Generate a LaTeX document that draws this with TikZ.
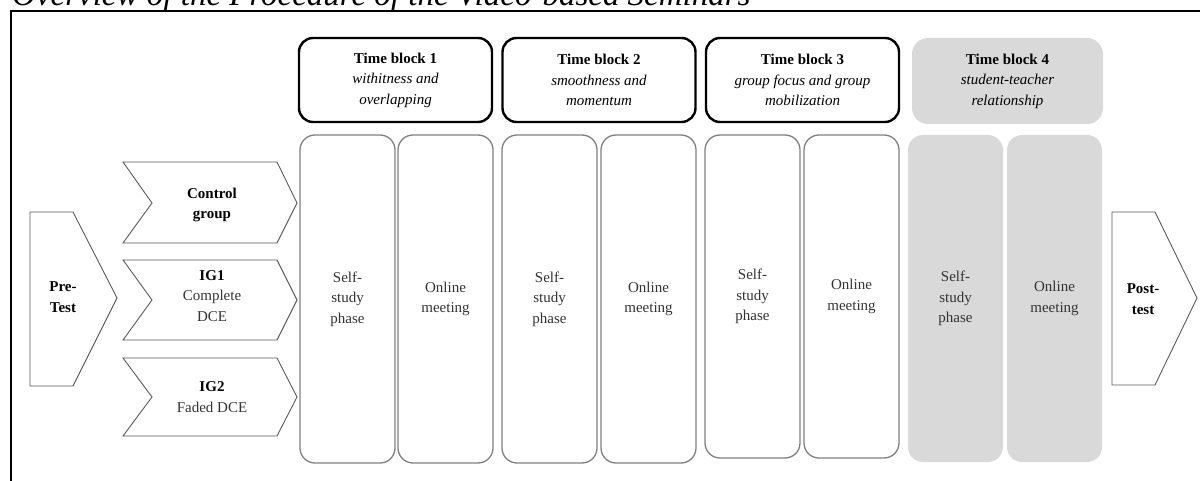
\documentclass[tikz,border=0pt]{standalone}
\usepackage{fontspec}
\setmainfont{Liberation Serif}
\begin{document}
\begin{tikzpicture}[x=1pt,y=-1pt,
  txt/.style={font=\fontsize{15}{20.5}\selectfont},
  hdr/.style={txt, draw=black, line width=2.4pt, rounded corners=14pt, minimum width=193pt, minimum height=84pt, align=center, inner sep=0pt},
  hdrgray/.style={txt, fill=black!15, rounded corners=16pt, minimum width=191pt, minimum height=86pt, align=center, inner sep=0pt},
  col/.style={txt, draw=black!50, line width=1.3pt, rounded corners=15pt, minimum width=95pt, align=center, inner sep=0pt, text=black!80},
  colgray/.style={txt, fill=black!15, rounded corners=15pt, minimum width=95pt, align=center, inner sep=0pt, text=black!80},
  chev/.style={draw=black!65, line width=0.9pt, line join=miter},
  lbl/.style={txt, align=center, inner sep=0pt}
]
\clip (0,0) rectangle (1200,481);
\useasboundingbox (0,0) rectangle (1200,481);

% title and frame
\node[anchor=base west, inner sep=0pt, font=\fontsize{33}{36}\selectfont\itshape] (title) at (12,6) {Overview of the Procedure of the Video-based Seminars};
\coordinate (fbl) at (11,481);
\coordinate (ftl) at (11,11);
\coordinate (ftr) at (1200,11);
\draw[line width=1.3pt] (fbl) -- (ftl) -- (ftr);

% headers
\node[hdr] (tb1) at (395.5,80) {\textbf{Time block 1}\\\textit{withitness and}\\\textit{overlapping}};
\node[hdr] (tb2) at (599,80) {\textbf{Time block 2}\\\textit{smoothness and}\\\textit{momentum}};
\node[hdr] (tb3) at (802.5,80) {\textbf{Time block 3}\\\textit{group focus and group}\\\textit{mobilization}};
\node[hdrgray] (tb4) at (1007.5,81) {\textbf{Time block 4}\\\textit{student-teacher}\\\textit{relationship}};

% columns
\node[col, minimum height=328pt] (s1) at (347.5,299) {Self-\\study\\phase};
\node[col, minimum height=328pt] (o1) at (445.5,299) {Online\\meeting};
\node[col, minimum height=328pt] (s2) at (549.5,299) {Self-\\study\\phase};
\node[col, minimum height=328pt] (o2) at (648.5,299) {Online\\meeting};
\node[col, minimum height=323pt] (s3) at (752.5,296.5) {Self-\\study\\phase};
\node[col, minimum height=323pt] (o3) at (851.5,296.5) {Online\\meeting};
\node[colgray, minimum height=327pt] (s4) at (955.5,298.5) {Self-\\study\\phase};
\node[colgray, minimum height=327pt] (o4) at (1054.5,298.5) {Online\\meeting};

% pre-test
\draw[chev] (30,212) -- (73,212) -- (117,298) -- (73,386) -- (30,386) -- cycle;
\node[lbl] (pre) at (63,297) {\textbf{Pre-}\\\textbf{Test}};

% groups
\draw[chev] (123,162) -- (277,162) -- (297,203) -- (277,243) -- (123,243) -- (152,203) -- cycle;
\node[lbl] (cg) at (212,205) {\textbf{Control}\\\textbf{group}};
\draw[chev] (123,260) -- (277,260) -- (297,300) -- (277,340) -- (123,340) -- (152,300) -- cycle;
\node[lbl] (ig1) at (212,296) {\textbf{IG1}\\{\color{black!80}Complete}\\{\color{black!80}DCE}};
\draw[chev] (123,358) -- (277,358) -- (297,397) -- (277,436) -- (123,436) -- (152,397) -- cycle;
\node[lbl] (ig2) at (212,397) {\textbf{IG2}\\{\color{black!80}Faded DCE}};

% post-test
\draw[chev] (1112,212) -- (1155,212) -- (1197,298) -- (1155,385) -- (1112,385) -- cycle;
\node[lbl] (post) at (1143,299) {\textbf{Post-}\\\textbf{test}};
\end{tikzpicture}
\end{document}
